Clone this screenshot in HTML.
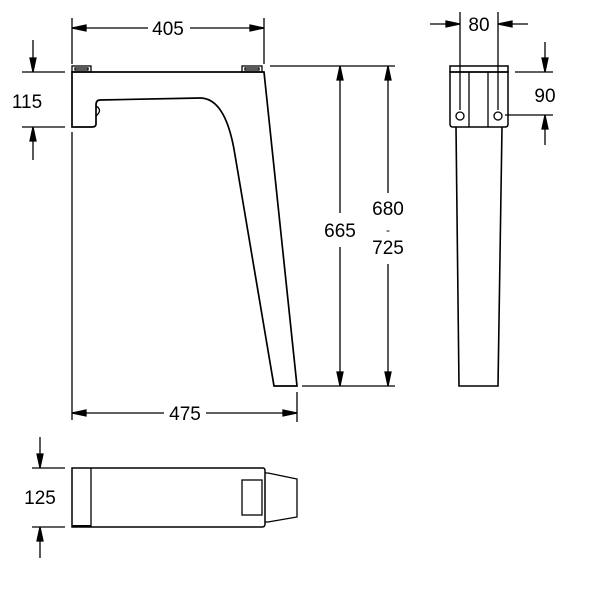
<!DOCTYPE html>
<html><head><style>body{margin:0;background:#fff}svg{display:block}</style></head><body>
<svg width="600" height="600" viewBox="0 0 600 600" xmlns="http://www.w3.org/2000/svg" font-family="Liberation Sans, sans-serif" font-size="19">
<g stroke="#000" fill="none" stroke-width="1.3">
<path d="M72,72 H264 L297,386 H274 L235,155 Q226,98 200,98 L100,100 Q96,100 96,105 V124 Q96,127 92,127 H72 Z" stroke-width="1.7"/>
<path d="M96,106 Q103,110 96,116"/>
<rect x="72" y="66" width="19" height="6"/><rect x="75" y="68" width="13" height="2"/>
<rect x="242" y="66" width="20" height="6"/><rect x="245" y="68" width="14" height="2"/>
<line x1="72" y1="18" x2="72" y2="64"/><line x1="264" y1="18" x2="264" y2="64"/>
<path d="M86,25 L72,28 L86,31 z" fill="#000"/><path d="M250,25 L264,28 L250,31 z" fill="#000"/>
<line x1="72" y1="28" x2="148" y2="28"/><line x1="190" y1="28" x2="264" y2="28"/>
<line x1="22" y1="72" x2="65" y2="72"/><line x1="22" y1="127" x2="65" y2="127"/>
<line x1="33" y1="40" x2="33" y2="72"/><path d="M30,58 L33,72 L36,58 z" fill="#000"/>
<line x1="33" y1="127" x2="33" y2="160"/><path d="M30,141 L33,127 L36,141 z" fill="#000"/>
<line x1="72" y1="132" x2="72" y2="420"/><line x1="297" y1="392" x2="297" y2="422"/>
<line x1="72" y1="413" x2="164" y2="413"/><line x1="206" y1="413" x2="297" y2="413"/>
<path d="M86,410 L72,413 L86,416 z" fill="#000"/><path d="M283,410 L297,413 L283,416 z" fill="#000"/>
<line x1="270" y1="66" x2="395" y2="66"/><line x1="302" y1="386" x2="395" y2="386"/>
<line x1="340" y1="66" x2="340" y2="213"/><line x1="340" y1="247" x2="340" y2="386"/>
<path d="M337,80 L340,66 L343,80 z" fill="#000"/><path d="M337,372 L340,386 L343,372 z" fill="#000"/>
<line x1="388" y1="66" x2="388" y2="193"/><line x1="388" y1="264" x2="388" y2="386"/>
<path d="M385,80 L388,66 L391,80 z" fill="#000"/><path d="M385,372 L388,386 L391,372 z" fill="#000"/>
<rect x="450" y="66" width="58" height="6" stroke-width="1.5"/>
<path d="M450,72 H508 V124 Q508,127 505,127 H453 Q450,127 450,124 Z" stroke-width="1.5"/>
<line x1="469" y1="72" x2="469" y2="127"/><line x1="488" y1="72" x2="488" y2="127"/>
<circle cx="460" cy="116" r="4"/><circle cx="498" cy="116" r="4"/>
<path d="M456,127 L459,386 H498 L502,127" stroke-width="1.6"/>
<line x1="460" y1="12" x2="460" y2="110"/><line x1="498" y1="12" x2="498" y2="110"/>
<line x1="430" y1="24" x2="460" y2="24"/><path d="M446,21 L460,24 L446,27 z" fill="#000"/>
<line x1="498" y1="24" x2="528" y2="24"/><path d="M512,21 L498,24 L512,27 z" fill="#000"/>
<line x1="515" y1="72" x2="553" y2="72"/><line x1="505" y1="115" x2="553" y2="115"/>
<line x1="545" y1="42" x2="545" y2="72"/><path d="M542,58 L545,72 L548,58 z" fill="#000"/>
<line x1="545" y1="115" x2="545" y2="145"/><path d="M542,129 L545,115 L548,129 z" fill="#000"/>
<path d="M72,468 H263 Q265,468 265,471 V524 Q265,527 262,527 H72 Z" stroke-width="1.5"/>
<line x1="91" y1="468" x2="91" y2="527"/><line x1="72" y1="526" x2="91" y2="526" stroke-width="2"/>
<rect x="242" y="480" width="20" height="35"/>
<path d="M265,473 L268,473 L297,479 V517 L268,522 L265,522"/>
<line x1="32" y1="468" x2="65" y2="468"/><line x1="32" y1="527" x2="65" y2="527"/>
<line x1="40" y1="437" x2="40" y2="468"/><path d="M37,454 L40,468 L43,454 z" fill="#000"/>
<line x1="40" y1="527" x2="40" y2="558"/><path d="M37,541 L40,527 L43,541 z" fill="#000"/>
</g>
<g fill="#000" text-anchor="middle">
<text x="168" y="35">405</text>
<text x="185" y="420">475</text>
<text x="27" y="108">115</text>
<text x="340" y="237">665</text>
<text x="388" y="215">680</text>
<text x="388" y="234" font-size="12">-</text>
<text x="388" y="254">725</text>
<text x="479" y="31">80</text>
<text x="545" y="102">90</text>
<text x="40" y="504">125</text>
</g>
</svg>
</body></html>
